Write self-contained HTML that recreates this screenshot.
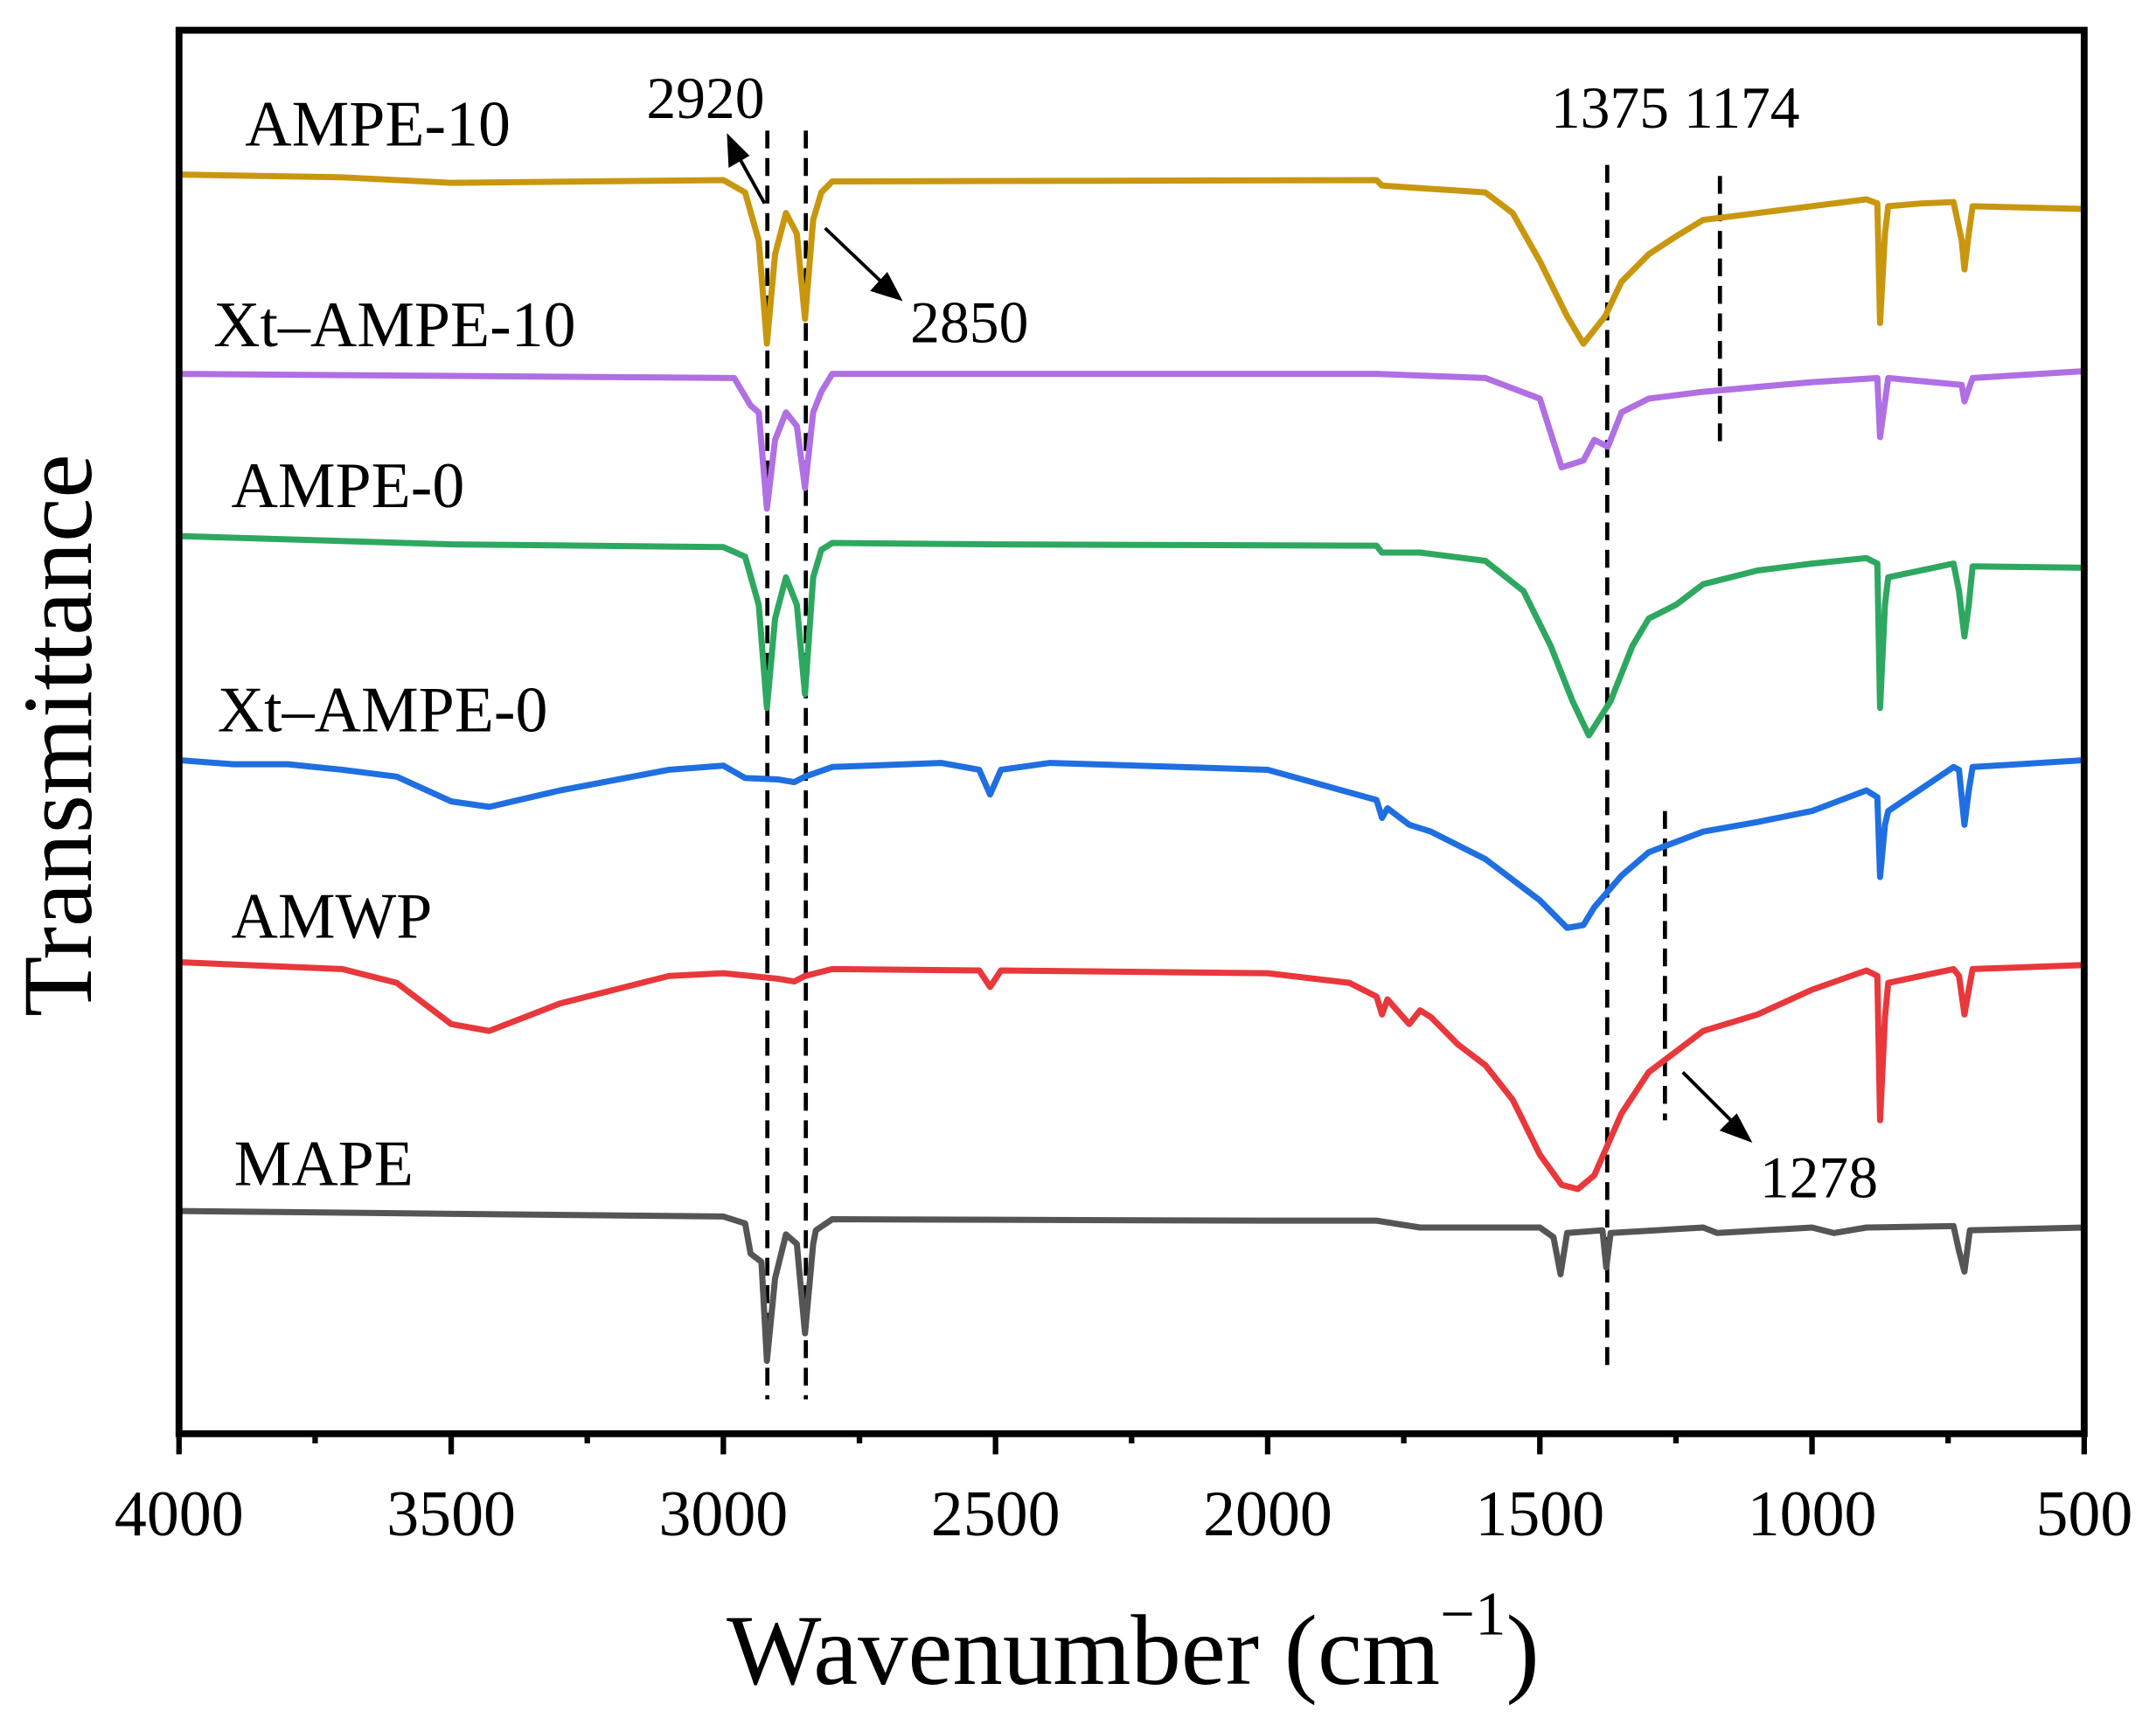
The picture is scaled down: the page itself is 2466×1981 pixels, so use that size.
<!DOCTYPE html>
<html><head><meta charset="utf-8"><style>
html,body{margin:0;padding:0;background:#fff}
svg{display:block}
text{font-family:"Liberation Serif",serif;fill:#000}
</style></head><body>
<svg width="2466" height="1981" viewBox="0 0 1568 1260" xmlns="http://www.w3.org/2000/svg">
<rect x="0" y="0" width="1568" height="1260" fill="#fff"/>
<g stroke="#000" stroke-width="3" stroke-dasharray="13,7" fill="none">
<line x1="558" y1="95" x2="558" y2="1018"/>
<line x1="586" y1="95" x2="586" y2="1018"/>
<line x1="1169" y1="120" x2="1169" y2="1000"/>
<line x1="1251" y1="128" x2="1251" y2="325"/>
<line x1="1211" y1="590" x2="1211" y2="815"/>
</g>
<g transform="translate(130,0) scale(-0.396,1) translate(-4000,0)" fill="none" stroke-width="7" stroke-linejoin="round" stroke-linecap="round">
<polyline vector-effect="non-scaling-stroke" stroke="#C9970F" points="4000,127 3700,129 3500,133 3000,131 2960,140 2935,175 2920,250 2905,185 2885,155 2865,170 2850,232 2835,160 2820,140 2800,132 1800,131 1790,135 1600,140 1550,155 1500,190 1450,230 1420,250 1380,230 1350,205 1300,185 1250,172 1200,160 1100,155 1000,150 900,145 880,148 875,235 866,170 860,150 800,148 740,147 725,175 720,196 712,170 705,150 500,152"/>
<polyline vector-effect="non-scaling-stroke" stroke="#B06FE3" points="4000,272 2980,275 2950,295 2935,300 2920,370 2905,320 2885,300 2865,310 2850,355 2835,300 2820,285 2800,272 1800,272 1600,275 1500,290 1460,340 1420,335 1400,320 1375,325 1350,300 1300,290 1200,285 1000,278 880,275 875,318 860,275 725,280 720,292 705,275 500,270"/>
<polyline vector-effect="non-scaling-stroke" stroke="#2EA860" points="4000,390 3500,396 3000,398 2960,405 2935,440 2920,515 2905,450 2885,420 2865,440 2850,505 2835,420 2820,400 2800,395 2500,396 1800,397 1790,402 1720,402 1600,408 1530,430 1480,470 1440,510 1410,535 1370,510 1330,470 1300,450 1250,440 1200,425 1100,415 1000,410 900,406 880,410 875,515 866,440 860,420 740,410 730,430 720,463 712,440 705,412 500,413"/>
<polyline vector-effect="non-scaling-stroke" stroke="#1F6FE0" points="4000,553 3900,556 3800,556 3700,560 3600,565 3500,583 3430,587 3300,575 3100,560 3000,557 2960,566 2900,567 2870,569 2850,565 2800,558 2600,555 2530,560 2510,578 2490,560 2400,555 2000,560 1800,582 1790,595 1780,588 1740,600 1700,605 1600,625 1500,655 1450,675 1420,673 1400,660 1350,637 1300,620 1200,605 1100,598 1000,590 900,575 880,580 875,638 866,600 860,590 740,558 730,560 720,600 712,575 705,558 500,553"/>
<polyline vector-effect="non-scaling-stroke" stroke="#E8383C" points="4000,700 3700,705 3600,715 3500,745 3430,750 3300,730 3100,710 3000,708 2900,712 2870,714 2850,710 2800,705 2530,706 2510,718 2490,706 2000,708 1850,715 1800,725 1790,738 1780,727 1740,745 1720,735 1700,740 1650,760 1600,775 1550,800 1500,840 1460,862 1430,865 1400,855 1350,810 1300,780 1250,765 1200,750 1100,738 1000,720 900,706 880,710 875,815 866,740 860,715 740,705 730,710 720,738 712,720 705,705 500,702"/>
<polyline vector-effect="non-scaling-stroke" stroke="#555555" points="4000,881 3000,885 2960,890 2950,912 2930,918 2920,990 2905,930 2885,898 2865,905 2850,970 2835,905 2830,895 2800,887 2000,888 1800,888 1720,893 1650,893 1500,893 1475,900 1462,927 1450,897 1385,895 1378,922 1370,897 1200,893 1174,897 1000,893 960,897 900,893 740,892 730,910 720,925 710,895 500,893"/>
</g>
<rect x="130" y="22" width="1386" height="1021" fill="none" stroke="#000" stroke-width="5"/>
<g stroke="#000" stroke-width="4">
<line x1="130" y1="1043" x2="130" y2="1058"/><line x1="328" y1="1043" x2="328" y2="1058"/><line x1="526" y1="1043" x2="526" y2="1058"/><line x1="724" y1="1043" x2="724" y2="1058"/><line x1="922" y1="1043" x2="922" y2="1058"/><line x1="1120" y1="1043" x2="1120" y2="1058"/><line x1="1318" y1="1043" x2="1318" y2="1058"/><line x1="1516" y1="1043" x2="1516" y2="1058"/>
<line x1="229" y1="1043" x2="229" y2="1050"/><line x1="427" y1="1043" x2="427" y2="1050"/><line x1="625" y1="1043" x2="625" y2="1050"/><line x1="823" y1="1043" x2="823" y2="1050"/><line x1="1021" y1="1043" x2="1021" y2="1050"/><line x1="1219" y1="1043" x2="1219" y2="1050"/><line x1="1417" y1="1043" x2="1417" y2="1050"/>
</g>
<g font-size="47" text-anchor="middle">
<text x="130" y="1117">4000</text><text x="328" y="1117">3500</text><text x="526" y="1117">3000</text><text x="724" y="1117">2500</text><text x="922" y="1117">2000</text><text x="1120" y="1117">1500</text><text x="1318" y="1117">1000</text><text x="1516" y="1117">500</text>
</g>
<text x="824" y="1225" font-size="73" text-anchor="middle">Wavenumber (cm<tspan font-size="45" dy="-36">−1</tspan><tspan dy="36">)</tspan></text>
<text transform="translate(66,535) rotate(-90)" font-size="72" text-anchor="middle">Transmittance</text>
<g font-size="47">
<text x="178" y="106">AMPE-10</text>
<text x="155" y="252">Xt–AMPE-10</text>
<text x="168" y="369">AMPE-0</text>
<text x="158" y="532">Xt–AMPE-0</text>
<text x="168" y="682">AMWP</text>
<text x="170" y="862">MAPE</text>
</g>
<g font-size="43">
<text x="470" y="86">2920</text>
<text x="662" y="249">2850</text>
<text x="1128" y="93">1375 1174</text>
<text x="1280" y="871">1278</text>
</g>
<g stroke="#000" stroke-width="2.5" fill="#000">
<line x1="556" y1="148" x2="536" y2="112"/><polygon points="530,100 531,120 543,113"/>
<line x1="600" y1="166" x2="642" y2="206"/><polygon points="654,217 635,211 645,200"/>
<line x1="1224" y1="780" x2="1262" y2="818"/><polygon points="1272,829 1253,822 1263,812"/>
</g>
</svg>
</body></html>
